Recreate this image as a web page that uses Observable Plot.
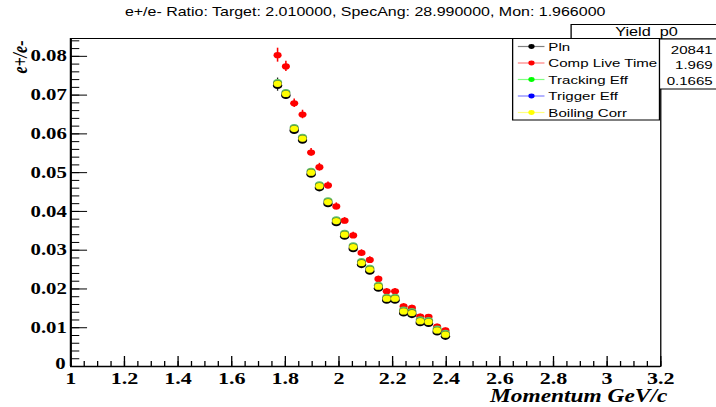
<!DOCTYPE html>
<html><head><meta charset="utf-8">
<script src="https://cdn.jsdelivr.net/npm/d3@7"></script>
<script src="https://cdn.jsdelivr.net/npm/@observablehq/plot@0.6"></script>
<style>body{margin:0;background:#fff;overflow:hidden;}</style>
</head><body><div id="chart"></div>
<script>
const momentum = [1.771,1.802,1.833,1.864,1.896,1.927,1.959,1.990,2.021,2.053,2.084,2.115,2.147,2.178,2.209,2.241,2.272,2.303,2.334,2.366,2.397];
const pln          = [0.0727,0.0701,0.0611,0.0586,0.0498,0.0463,0.0422,0.0373,0.0338,0.0306,0.0265,0.0248,0.0204,0.0173,0.0173,0.0140,0.0136,0.0115,0.0113,0.0091,0.0080];
const compLiveTime = [0.0803,0.0774,0.0679,0.0650,0.0552,0.0514,0.0467,0.0413,0.0376,0.0338,0.0293,0.0275,0.0226,0.0194,0.0194,0.0155,0.0151,0.0129,0.0128,0.0103,0.0093];
const trackingEff  = [0.0731,0.0705,0.0615,0.0590,0.0502,0.0467,0.0426,0.0377,0.0342,0.0310,0.0269,0.0252,0.0208,0.0177,0.0177,0.0144,0.0140,0.0119,0.0117,0.0095,0.0084];
const triggerEff   = [0.0729,0.0703,0.0613,0.0588,0.0500,0.0465,0.0424,0.0375,0.0340,0.0308,0.0267,0.0250,0.0206,0.0175,0.0175,0.0142,0.0138,0.0117,0.0115,0.0093,0.0082];
const boilingCorr  = [0.0729,0.0703,0.0613,0.0588,0.0500,0.0465,0.0424,0.0375,0.0340,0.0308,0.0267,0.0250,0.0206,0.0175,0.0175,0.0142,0.0138,0.0117,0.0115,0.0093,0.0082];
const compLiveTimeErr = [0.0018,0.0013,0.0011,0.0011,0.0010,0.0010,0.0009,0.0009,0.0008,0.0008,0.0008,0.0008,0.0007,0.0007,0.0007,0.0007,0.0007,0.0006,0.0006,0.0006,0.0006];
const yieldErr        = [0.0017,0.0012,0.0011,0.0010,0.0009,0.0009,0.0008,0.0008,0.0007,0.0007,0.0007,0.0007,0.0006,0.0006,0.0006,0.0006,0.0006,0.0005,0.0005,0.0005,0.0005];

const xTicks = [1,1.2,1.4,1.6,1.8,2,2.2,2.4,2.6,2.8,3,3.2];
const xTickLabels = ["1","1.2","1.4","1.6","1.8","2","2.2","2.4","2.6","2.8","3","3.2"];
const yTicks = [0.01,0.02,0.03,0.04,0.05,0.06,0.07,0.08];
const yTickLabels = ["0.01","0.02","0.03","0.04","0.05","0.06","0.07","0.08"];
const xMinor = d3.range(0, 45).map(i => 1 + i * 0.05);
const yMinor = d3.range(0, 43).map(i => i * 0.002);

const legendNames = ["Pln","Comp Live Time","Tracking Eff","Trigger Eff","Boiling Corr"];
const legendColors = ["#000000","#ff0000","#00ff00","#0000ff","#ffff00"];
const legendLineColors = ["#808080","#ff8080","#80ff80","#8080ff","#ffff80"];
const statsTitle = "Yield_p0";
const statsValues = ["20841","1.969","0.1665"];
const titleText = "e+/e- Ratio: Target: 2.010000, SpecAng: 28.990000, Mon: 1.966000";

const W = 551, H = 407, ML = 54, MR = 43, MT = 38, MB = 41;
const FW = W - ML - MR, FH = H - MT - MB;
const serif = "Liberation Serif, Times New Roman, serif";
const sans = "Liberation Sans, Arial, sans-serif";

const lo = (v, e) => v.map((d, i) => d - e[i]);
const hi = (v, e) => v.map((d, i) => d + e[i]);

const svg = Plot.plot({
  width: W, height: H,
  marginLeft: ML, marginRight: MR, marginTop: MT, marginBottom: MB,
  x: {domain: [1, 3.2], axis: null},
  y: {domain: [0, 0.0846], axis: null},
  marks: [
    Plot.ruleY(yMinor, {y: d => d, insetRight: FW - 7, stroke: "black", strokeWidth: 1}),
    Plot.ruleY(yTicks.concat([0]), {y: d => d, insetRight: FW - 13, stroke: "black", strokeWidth: 1}),
    Plot.ruleX(xMinor, {x: d => d, insetTop: FH - 5, stroke: "black", strokeWidth: 1}),
    Plot.ruleX(xTicks, {x: d => d, insetTop: FH - 10, stroke: "black", strokeWidth: 1}),
    // Pln
    Plot.ruleX(momentum, {x: momentum, y1: lo(pln, yieldErr), y2: hi(pln, yieldErr), stroke: "#222", strokeWidth: 1}),
    Plot.dot(momentum, {x: momentum, y: pln, r: 3.6, fill: "#000", dy: 0.8}),
    // Comp Live Time
    Plot.ruleX(momentum, {x: momentum, y1: lo(compLiveTime, compLiveTimeErr), y2: hi(compLiveTime, compLiveTimeErr), stroke: "#ff0000", strokeWidth: 1.2}),
    Plot.dot(momentum, {x: momentum, y: compLiveTime, r: 3.1, fill: "#ff0000"}),
    // Tracking
    Plot.dot(momentum, {x: momentum, y: trackingEff, r: 3.5, fill: "#60c060", dy: -0.6}),
    // Trigger
    Plot.dot(momentum, {x: momentum, y: triggerEff, r: 3.4, fill: "#4a4a30"}),
    // Boiling
    Plot.dot(momentum, {x: momentum, y: boilingCorr, r: 3.1, fill: "#ffff00"}),
    Plot.frame({stroke: "black", strokeWidth: 1}),
    Plot.ruleX([1], {stroke: "black", strokeWidth: 1.6}),
    Plot.ruleY([0], {stroke: "black", strokeWidth: 1.6}),
    // tick labels
    Plot.text(xTicks, {x: d => d, y: 0, text: (d, i) => xTickLabels[i], lineAnchor: "top", dy: 5, fontFamily: serif, fontWeight: "bold", fontSize: 17, fill: "black"}),
    Plot.text(yTicks, {x: 1, y: d => d, text: (d, i) => yTickLabels[i], textAnchor: "end", dx: -3, fontFamily: serif, fontWeight: "bold", fontSize: 16, fill: "black"}),
    Plot.text(["0"], {x: 1, y: 0, textAnchor: "end", dx: -4, dy: -3, fontFamily: serif, fontWeight: "bold", fontSize: 16, fill: "black"}),
    Plot.text(["Momentum GeV/c"], {frameAnchor: "bottom-right", textAnchor: "end", lineAnchor: "bottom", dx: 5, dy: 35, fontFamily: serif, fontWeight: "bold", fontStyle: "italic", fontSize: 18, fill: "black"}),
    Plot.text(["e+/e-"], {frameAnchor: "top-left", rotate: -90, textAnchor: "end", lineAnchor: "middle", dx: -38.5, dy: 2, fontFamily: serif, fontWeight: "bold", fontStyle: "italic", fontSize: 16, fill: "black"})
  ]
});

const s = d3.select(svg);
svg.setAttribute("width", 716);
svg.setAttribute("preserveAspectRatio", "none");
svg.style.width = "716px";
svg.style.height = "407px";
svg.style.maxWidth = "none";

// title
s.append("text").attr("x", 281).attr("y", 16).attr("text-anchor", "middle")
  .attr("font-family", sans).attr("font-size", 12.3).attr("fill", "black").text(titleText);

// stats box
const st = s.append("g");
st.append("rect").attr("x", 439.5).attr("y", 24.5).attr("width", 120).attr("height", 14.5).attr("fill", "white").attr("stroke", "black");
st.append("rect").attr("x", 439.5).attr("y", 39).attr("width", 120).attr("height", 50).attr("fill", "white").attr("stroke", "black");
st.append("text").attr("x", 497.5).attr("y", 36.5).attr("text-anchor", "middle").attr("font-family", sans).attr("font-size", 12.5).text(statsTitle);
statsValues.forEach((v, i) => {
  st.append("text").attr("x", 548.5).attr("y", [54, 69.5, 85][i]).attr("text-anchor", "end")
    .attr("font-family", sans).attr("font-size", 11.6).text(v);
});

// legend
const lg = s.append("g");
lg.append("rect").attr("x", 394.5).attr("y", 38.5).attr("width", 113).attr("height", 81.5).attr("fill", "white").attr("stroke", "black");
legendNames.forEach((name, i) => {
  const y = 46.5 + i * 16.5;
  lg.append("line").attr("x1", 398.5).attr("x2", 419).attr("y1", y).attr("y2", y).attr("stroke", legendLineColors[i]).attr("stroke-width", 1.2);
  lg.append("circle").attr("cx", 409).attr("cy", y).attr("r", 2.4).attr("fill", legendColors[i]);
  lg.append("text").attr("x", 422).attr("y", y).attr("dy", "0.36em").attr("text-anchor", "start")
    .attr("font-family", sans).attr("font-size", 11.6).text(name);
});

document.getElementById("chart").appendChild(svg);
</script>
</body></html>
